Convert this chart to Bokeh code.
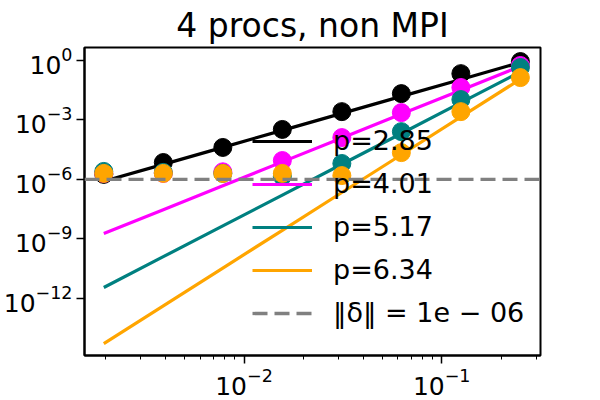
import numpy as np
from bokeh.plotting import figure
from bokeh.models import ColumnDataSource, FixedTicker, Legend, LegendItem, Span
from bokeh.embed import file_html
from bokeh.resources import INLINE

# --- data ---
h = [2**-9, 2**-8, 2**-7, 2**-6, 2**-5, 2**-4, 2**-3, 2**-2]
log_err_black = [-5.75, -5.15, -4.39, -3.48, -2.58, -1.67, -0.66, -0.05]
log_err_magenta = [-5.7, -5.7, -5.62, -5.05, -3.89, -2.63, -1.36, -0.25]
log_err_teal = [-5.6, -5.65, -5.7, -5.85, -5.2, -3.59, -1.97, -0.35]
log_err_orange = [-5.7, -5.7, -5.7, -5.7, -5.81, -4.65, -2.58, -0.86]
slopes = [2.85, 4.01, 5.17, 6.34]
log_fit_end = [-0.095, -0.29, -0.57, -0.94]
colors = ["black", "#ff00ff", "#008080", "#ffa500"]
labels = ["p=2.85", "p=4.01", "p=5.17", "p=6.34"]
tol = 1e-6
tol_label = "\u2016\u03b4\u2016 = 1e \u2212 06"
title = "4 procs, non MPI"
y_ticks = [1e-12, 1e-9, 1e-6, 1e-3, 1e0]
x_major = [1e-2, 1e-1]
x_minor = [2e-3, 3e-3, 4e-3, 5e-3, 6e-3, 7e-3, 8e-3, 9e-3,
           2e-2, 3e-2, 4e-2, 5e-2, 6e-2, 7e-2, 8e-2, 9e-2, 2e-1, 3e-1]

FONT = "DejaVu Sans"

p = figure(width=600, height=400, x_axis_type="log", y_axis_type="log",
           x_range=(1.56e-3, 0.316), y_range=(10**-14.9, 10**0.66),
           output_backend="svg", toolbar_location=None,
           min_border_left=74, min_border_right=60, min_border_top=47,
           min_border_bottom=45)

p.title.text = title
p.title.text_font = FONT
p.title.text_font_size = "33px"
p.title.text_font_style = "normal"
p.title.text_color = "black"
p.title.align = "center"
p.title.standoff = 6
p.title.offset = 0

p.grid.visible = False
p.outline_line_color = "black"
p.outline_line_width = 2
p.outline_line_alpha = 1

for ax in (p.xaxis[0], p.yaxis[0]):
    ax.axis_line_width = 2
    ax.major_tick_in = 0
    ax.major_tick_out = 8
    ax.minor_tick_in = 0
    ax.minor_tick_out = 4
    ax.major_tick_line_width = 1.5
    ax.minor_tick_line_width = 1
    ax.major_label_text_font = FONT
    ax.major_label_text_font_size = "25px"
    ax.major_label_text_color = "black"
    ax.major_label_standoff = 4

p.xaxis.ticker = FixedTicker(ticks=x_major, minor_ticks=x_minor)
p.yaxis.ticker = FixedTicker(ticks=y_ticks, minor_ticks=[])

series = [log_err_black, log_err_magenta, log_err_teal, log_err_orange]
h_arr = np.array(h)
items = []
for s, c, lab, sl, lfe in zip(series, colors, labels, slopes, log_fit_end):
    err = 10 ** np.array(s)
    fit = 10 ** lfe * (h_arr / h_arr[-1]) ** sl
    src = ColumnDataSource(dict(h=h_arr, err=err, fit=fit))
    p.scatter("h", "err", source=src, size=18, color=c, line_color=c)
    r = p.line("h", "fit", source=src, line_color=c, line_width=3.2)
    items.append(LegendItem(label=lab, renderers=[r]))

span = Span(location=tol, dimension="width", line_color="gray",
            line_width=3.3, line_dash="15 7")
p.add_layout(span)
# renderer for the legend entry of the dashed line
dsrc = ColumnDataSource(dict(x=[h[0], h[0]], y=[tol, tol]))
dr = p.line("x", "y", source=dsrc, line_color="gray", line_width=3.3,
            line_dash="15 7")
items.append(LegendItem(label=tol_label, renderers=[dr]))

legend = Legend(items=items, location=(168, 27),
                background_fill_alpha=0, border_line_alpha=0,
                label_text_font=FONT, label_text_font_size="27px",
                label_text_color="black",
                glyph_width=60, glyph_height=30, label_height=30,
                label_standoff=21, spacing=12, padding=0, margin=0)
p.add_layout(legend)

open("out.html", "w").write(file_html(p, INLINE))
